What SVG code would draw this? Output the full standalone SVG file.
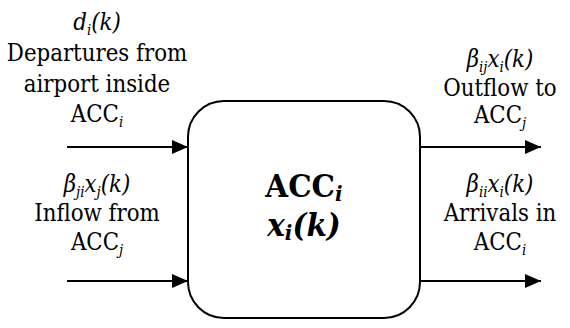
<svg xmlns="http://www.w3.org/2000/svg" width="570" height="328" viewBox="0 0 570 328">
<defs>
<style>
.lbl{font-family:'DejaVu Serif',serif;font-size:24px;fill:#000;text-anchor:middle}
.it{font-style:italic}
.sub{font-size:15px;font-style:italic}
.big{font-family:'DejaVu Serif',serif;font-size:31px;font-weight:bold;fill:#000;text-anchor:middle}
.edge{stroke:#000;stroke-width:2;fill:none}
</style>
<marker id="ah" viewBox="0 0 16 14" refX="16" refY="7" markerWidth="16" markerHeight="14" markerUnits="userSpaceOnUse" orient="auto">
<path d="M0,0 L16,7 L0,14 Z" fill="#000"/>
</marker>
</defs>
<rect width="570" height="328" fill="#fff"/>
<g id="connectors">
<line class="edge" x1="67" y1="147" x2="188" y2="147" marker-end="url(#ah)"/>
<line class="edge" x1="67" y1="281" x2="188" y2="281" marker-end="url(#ah)"/>
<line class="edge" x1="420" y1="147" x2="541" y2="147" marker-end="url(#ah)"/>
<line class="edge" x1="420" y1="281" x2="541" y2="281" marker-end="url(#ah)"/>
</g>
<g id="acc">
<rect x="188" y="101" width="232" height="217" rx="36" ry="36" fill="#fff" stroke="#000" stroke-width="2"/>
<text class="big" transform="translate(304,197) scale(0.95,1)">ACC<tspan class="it" font-size="21" dy="4">i</tspan></text>
<text class="big it" transform="translate(304,236) scale(0.95,1)">x<tspan font-size="21" dy="4">i</tspan><tspan dy="-4">(k)</tspan></text>
</g>
<g id="departures">
<text class="lbl" transform="translate(97,30) scale(0.89,1)"><tspan class="it">d</tspan><tspan class="sub" dy="5">i</tspan><tspan class="it" dy="-5">(k)</tspan></text>
<text class="lbl" transform="translate(97,61) scale(0.89,1)">Departures from</text>
<text class="lbl" transform="translate(97,92) scale(0.89,1)">airport inside</text>
<text class="lbl" transform="translate(97,122) scale(0.89,1)">ACC<tspan class="sub" dy="5">i</tspan></text>
</g>
<g id="inflow">
<text class="lbl" transform="translate(97,192) scale(0.89,1)"><tspan class="it">β</tspan><tspan class="sub" dy="5">ji</tspan><tspan class="it" dy="-5">x</tspan><tspan class="sub" dy="5">j</tspan><tspan class="it" dy="-5">(k)</tspan></text>
<text class="lbl" transform="translate(97,221) scale(0.89,1)">Inflow from</text>
<text class="lbl" transform="translate(97,250) scale(0.89,1)">ACC<tspan class="sub" dy="5">j</tspan></text>
</g>
<g id="outflow">
<text class="lbl" transform="translate(500,67) scale(0.89,1)"><tspan class="it">β</tspan><tspan class="sub" dy="5">ij</tspan><tspan class="it" dy="-5">x</tspan><tspan class="sub" dy="5">i</tspan><tspan class="it" dy="-5">(k)</tspan></text>
<text class="lbl" transform="translate(500,96) scale(0.89,1)">Outflow to</text>
<text class="lbl" transform="translate(500,123) scale(0.89,1)">ACC<tspan class="sub" dy="5">j</tspan></text>
</g>
<g id="arrivals">
<text class="lbl" transform="translate(500,192) scale(0.89,1)"><tspan class="it">β</tspan><tspan class="sub" dy="5">ii</tspan><tspan class="it" dy="-5">x</tspan><tspan class="sub" dy="5">i</tspan><tspan class="it" dy="-5">(k)</tspan></text>
<text class="lbl" transform="translate(500,221) scale(0.89,1)">Arrivals in</text>
<text class="lbl" transform="translate(500,250) scale(0.89,1)">ACC<tspan class="sub" dy="5">i</tspan></text>
</g>
</svg>
